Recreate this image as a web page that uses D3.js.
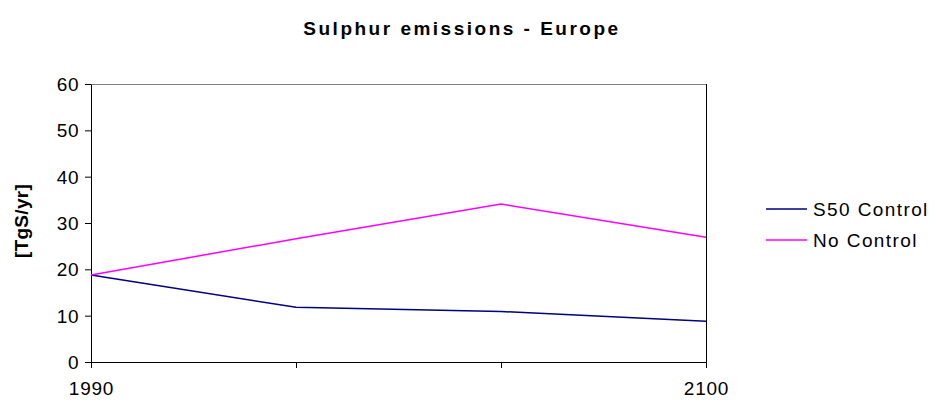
<!DOCTYPE html>
<html>
<head>
<meta charset="utf-8">
<script src="https://cdn.jsdelivr.net/npm/d3@7"></script>
<style>
    body { margin: 0; background: #fff; }
    text { font-family: "Liberation Sans", Arial, sans-serif; fill: #000; }
</style>
</head>
<body>
<div id="chart"></div>
<script>
// Chart data
const years = ["1990", "2025", "2050", "2100"];
const yearLabels = ["1990", "", "", "2100"];
const s50Control = [18.8, 11.8, 10.9, 8.8];
const noControl = [18.8, 26.6, 34.1, 26.9];
const yTicks = [0, 10, 20, 30, 40, 50, 60];

const seriesList = [
    { name: "S50 Control", values: s50Control, color: "#000080" },
    { name: "No Control", values: noControl, color: "#ff00ff" }
];

const width = 933, height = 401;
const margin = { top: 84, right: 227, bottom: 39, left: 91 };
const plotW = width - margin.left - margin.right;
const plotH = height - margin.top - margin.bottom;

const svg = d3.select("#chart")
    .append("svg")
    .attr("width", width)
    .attr("height", height);

// Title
svg.append("text")
    .attr("x", 462)
    .attr("y", 35)
    .attr("text-anchor", "middle")
    .style("font-size", "19px")
    .style("font-weight", "bold")
    .style("letter-spacing", "2.5px")
    .text("Sulphur emissions - Europe");

const g = svg.append("g")
    .attr("transform", `translate(${margin.left},${margin.top})`);

const x = d3.scalePoint()
    .domain(years)
    .range([0, plotW]);

const y = d3.scaleLinear()
    .domain([0, 60])
    .range([plotH, 0]);

// Plot frame: grey top, dark right
g.append("line")
    .attr("x1", 0).attr("x2", plotW)
    .attr("y1", 0.5).attr("y2", 0.5)
    .attr("stroke", "#808080");
g.append("line")
    .attr("x1", plotW + 0.5).attr("x2", plotW + 0.5)
    .attr("y1", 0).attr("y2", plotH)
    .attr("stroke", "#000");

// Y axis
const yAxis = g.append("g")
    .call(d3.axisLeft(y).tickValues(yTicks).tickSize(6).tickPadding(6).tickSizeOuter(0));
yAxis.select(".domain").attr("stroke", "#000");
yAxis.selectAll("line").attr("stroke", "#000");
yAxis.selectAll("text")
    .style("font-size", "19px")
    .style("letter-spacing", "0.5px")
    .attr("dy", "0.35em");

// X axis
const xAxis = g.append("g")
    .attr("transform", `translate(0,${plotH})`)
    .call(d3.axisBottom(x).tickSize(6).tickPadding(14).tickSizeOuter(0)
        .tickFormat((d, i) => yearLabels[i]));
xAxis.select(".domain").attr("stroke", "#000");
xAxis.selectAll("line").attr("stroke", "#000");
xAxis.selectAll("text")
    .style("font-size", "19px")
    .style("letter-spacing", "0.8px");

// Y axis label
svg.append("text")
    .attr("transform", "translate(28,221) rotate(-90)")
    .attr("text-anchor", "middle")
    .style("font-size", "19px")
    .style("font-weight", "bold")
    .style("letter-spacing", "0.3px")
    .text("[TgS/yr]");

// Lines
const line = d3.line()
    .x((d, i) => x(years[i]))
    .y(d => y(d));

g.selectAll(".series")
    .data(seriesList)
    .enter()
    .append("path")
    .attr("class", "series")
    .attr("fill", "none")
    .attr("stroke", d => d.color)
    .attr("stroke-width", 1.5)
    .attr("d", d => line(d.values));

// Legend
const legend = svg.append("g")
    .attr("transform", "translate(766,209)");
const items = legend.selectAll(".item")
    .data(seriesList)
    .enter()
    .append("g")
    .attr("class", "item")
    .attr("transform", (d, i) => `translate(0,${i * 31})`);
items.append("line")
    .attr("x1", 0).attr("x2", 41)
    .attr("stroke", d => d.color)
    .attr("stroke-width", 1.5);
items.append("text")
    .attr("x", 47)
    .attr("dy", "0.35em")
    .style("font-size", "19px")
    .style("letter-spacing", "1.4px")
    .text(d => d.name);
</script>
</body>
</html>
